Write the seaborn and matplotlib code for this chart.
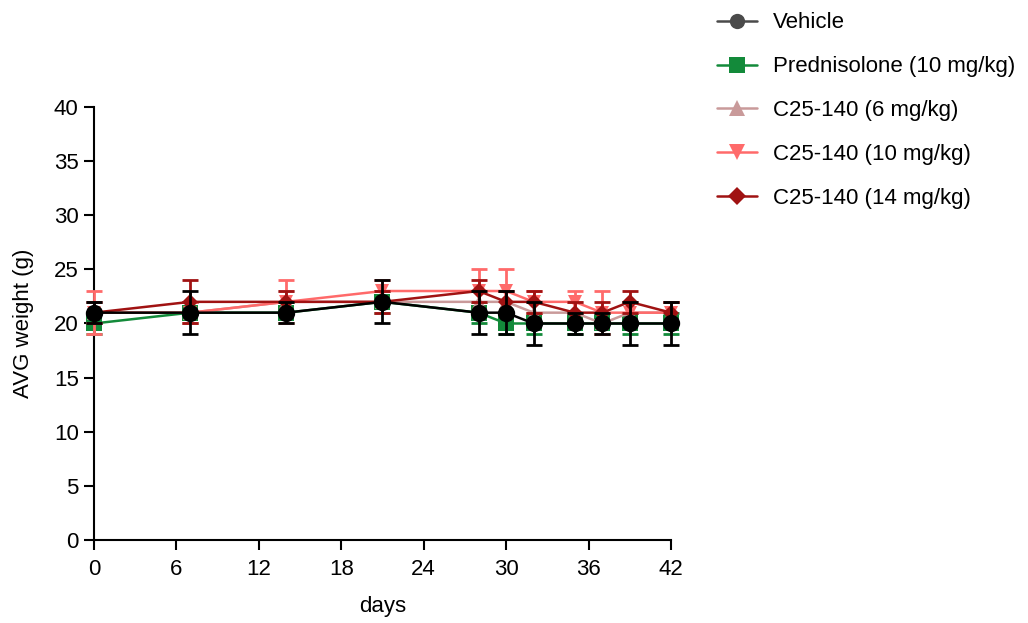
import matplotlib
matplotlib.use("Agg")
import matplotlib.pyplot as plt
from matplotlib.lines import Line2D
import seaborn as sns
import pandas as pd

days = [0, 7, 14, 21, 28, 30, 32, 35, 37, 39, 42]

groups = ["Vehicle", "Prednisolone (10 mg/kg)", "C25-140 (6 mg/kg)",
          "C25-140 (10 mg/kg)", "C25-140 (14 mg/kg)"]

vehicle = [21, 21, 21, 22, 21, 21, 20, 20, 20, 20, 20]
vehicle_err = [1, 2, 1, 2, 2, 2, 2, 1, 1, 2, 2]

prednisolone = [20, 21, 21, 22, 21, 20, 20, 20, 20, 20, 20]
prednisolone_err = [1, 1, 1, 1, 1, 1, 1, 1, 1, 1, 1]

c6 = [21, 21, 22, 22, 22, 22, 21, 21, 20, 21, 21]
c6_err = [1, 1, 1, 1, 1, 1, 1, 1, 1, 1, 1]

c10 = [21, 21, 22, 23, 23, 23, 22, 22, 21, 21, 21]
c10_err = [2, 1, 2, 1, 2, 2, 1, 1, 2, 1, 1]

c14 = [21, 22, 22, 22, 23, 22, 22, 21, 21, 22, 21]
c14_err = [1, 2, 1, 1, 1, 1, 1, 1, 1, 1, 1]

y_ticks = [0, 5, 10, 15, 20, 25, 30, 35, 40]
x_ticks = [0, 6, 12, 18, 24, 30, 36, 42]

series = [vehicle, prednisolone, c6, c10, c14]
errors = [vehicle_err, prednisolone_err, c6_err, c10_err, c14_err]
colors = ["#000000", "#138a3a", "#c99a9a", "#ff6a6a", "#a01212"]
legend_colors = ["#4a4a4a", "#138a3a", "#c99a9a", "#ff6a6a", "#a01212"]
markers = ["o", "s", "^", "v", "D"]
msizes = [12.5, 11, 10, 10, 8]
zorders = [10, 5, 6, 7, 8]

sns.set_style("white")
plt.rcParams["font.family"] = ["Liberation Sans", "DejaVu Sans"]

fig = plt.figure(figsize=(10.28, 6.23), dpi=100)
ax = fig.add_axes([0.0914, 0.1332, 0.5613, 0.6951])

rows = []
for g, vals in zip(groups, series):
    for d, v in zip(days, vals):
        rows.append({"days": d, "weight": v, "group": g})
df = pd.DataFrame(rows)

for g, vals, err, col, mk, ms, z in zip(groups, series, errors, colors, markers, msizes, zorders):
    sub = df[df["group"] == g]
    ax.errorbar(days, vals, yerr=err, fmt="none", ecolor=col, elinewidth=2,
                capsize=6, capthick=2, zorder=z - 0.5)
    sns.lineplot(data=sub, x="days", y="weight", ax=ax, color=col, marker=mk,
                 markersize=ms, markeredgewidth=0, linewidth=1.8, zorder=z,
                 legend=False)

ax.set_xlim(0, 42)
ax.set_ylim(0, 40)
ax.set_xticks(x_ticks)
ax.set_yticks(y_ticks)
ax.tick_params(axis="both", direction="out", length=7, width=1.5, labelsize=16,
               color="black", labelcolor="black", left=True, bottom=True, pad=4)
ax.tick_params(axis="x", pad=7)
ax.set_xlabel("days", fontsize=16, labelpad=11, color="black")
ax.set_ylabel("AVG weight (g)", fontsize=16, labelpad=14, color="black")
for s in ["top", "right"]:
    ax.spines[s].set_visible(False)
for s in ["left", "bottom"]:
    ax.spines[s].set_color("black")
    ax.spines[s].set_linewidth(1.5)
for art in ax.lines + ax.collections:
    art.set_clip_on(False)

handles = [Line2D([0], [0], color=c, marker=m, markersize=ms, markeredgewidth=0, linewidth=1.8)
           for c, m, ms in zip(legend_colors, markers, [11, 11, 11, 11, 9])]
leg = fig.legend(handles, groups, loc="upper left", bbox_to_anchor=(0.6975, 0.98),
                 frameon=False, fontsize=16, handlelength=1.8, labelspacing=1.03,
                 handletextpad=0.7, borderpad=0, borderaxespad=0)
for t in leg.get_texts():
    t.set_color("black")

fig.savefig("out.png", dpi=100)
